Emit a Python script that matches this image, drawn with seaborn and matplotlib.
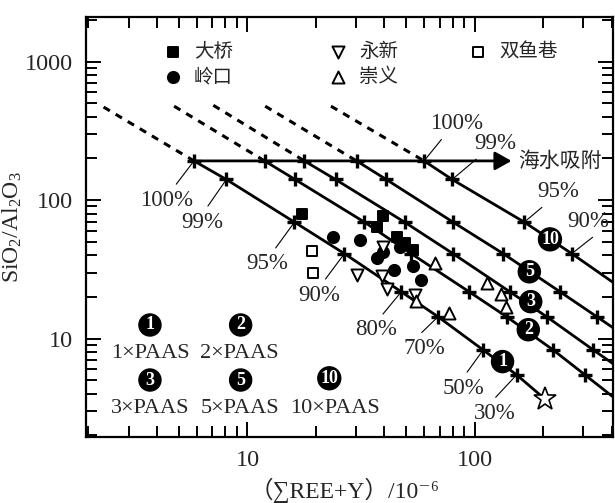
import matplotlib
matplotlib.use('Agg')
import matplotlib.pyplot as plt
import seaborn as sns
import pandas as pd

# silica fraction (%) at the marks on each mixing line, and SiO2/Al2O3 there
frac = [100, 99, 95, 90, 80, 70, 50, 30]
ratio = [192, 141, 69.4, 41.1, 21.8, 14.4, 8.29, 5.48]

# sum REE+Y at the marks of each line (1, 2, 3, 5, 10 x PAAS)
ree_1 = [5.82, 8.08, 16.1, 26.7, 47.5, 68.9, 108.8, 152.7]
ree_2 = [11.9, 16.2, 32.7, 52.5, 94.4, 138, 221, 305]
ree_3 = [17.8, 24.4, 49.1, 80.2, 142.6, 207, 332]
ree_5 = [30.2, 40.8, 80.2, 133.3, 237, 344]
ree_10 = [59.8, 79.5, 165, 267]
# where each line ends (PAAS star for line 1, frame edge for the others)
end_1 = (203.6, 3.66)
end_2 = (405, 3.8)
end_3 = (405, 6.6)
end_5 = (405, 12.0)
end_10 = (405, 25.5)
# upper ends of the dashed extensions
dash_x = [2.33, 4.76, 7.08, 11.97, 23.3]
dash_y = [470, 477, 484, 477, 477]
arrow_end = 145

# samples
daqiao_x = [17.4, 39.4, 37.2, 45.4, 49.1, 53.4]
daqiao_y = [79.3, 76.7, 63.6, 53.8, 48.7, 43.6]
lingkou_x = [23.9, 31.4, 46.7, 39.4, 37.1, 43.9, 53.4, 58.1]
lingkou_y = [53.8, 51.5, 46.1, 42.2, 38.0, 31.5, 33.7, 26.3]
yongxin_x = [39.4, 30.3, 39.2, 41.3, 54.4]
yongxin_y = [46.1, 28.8, 28.3, 22.9, 20.6]
chongyi_x = [54.9, 66.6, 77.0, 113, 129.8, 137.4]
chongyi_y = [18.7, 35.1, 15.2, 25.2, 21.1, 17.0]
shuangyu_x = [19.2, 19.5]
shuangyu_y = [43.1, 29.9]

sns.set_style('ticks')
plt.rcParams['font.family'] = ['Liberation Serif', 'Noto Sans CJK SC', 'DejaVu Serif']
plt.rcParams['mathtext.fontset'] = 'custom'
plt.rcParams['mathtext.rm'] = 'Liberation Serif'
plt.rcParams['mathtext.it'] = 'Liberation Serif:italic'

fig = plt.figure(figsize=(6.15, 5.03), dpi=100)
ax = fig.add_axes([0.1398, 0.1312, 0.8569, 0.835])
ax.set_xscale('log')
ax.set_yscale('log')
ax.set_xlim(1.95, 405)
ax.set_ylim(1.95, 2100)

lines = [(ree_1, end_1), (ree_2, end_2), (ree_3, end_3), (ree_5, end_5), (ree_10, end_10)]
for i, (ree, end) in enumerate(lines):
    n = len(ree)
    ax.plot(ree + [end[0]], ratio[:n] + [end[1]], color='k', lw=2, zorder=2)
    ax.plot(ree, ratio[:n], ls='none', marker='+', ms=10, mew=2.4, color='k', zorder=2)
    ax.plot([dash_x[i], ree[0]], [dash_y[i], ratio[0]], color='k', lw=2.2,
            ls=(0, (2.4, 2.2)), zorder=2)

ax.annotate('', xy=(arrow_end, ratio[0]), xytext=(ree_1[0], ratio[0]),
            arrowprops=dict(arrowstyle='-|>,head_length=0.5,head_width=0.28',
                            lw=2, color='k', mutation_scale=20, shrinkA=0, shrinkB=0),
            zorder=2)
ax.text(arrow_end * 1.07, ratio[0], '海水吸附', fontsize=15, va='center', ha='left',
        family=['Noto Sans CJK SC'])
ax.plot(*end_1, marker='*', ms=17, mfc='white', mec='k', mew=1.2, zorder=3)

kw = dict(edgecolor='k', linewidth=1.4, zorder=3, ax=ax, clip_on=False)
sns.scatterplot(x=daqiao_x, y=daqiao_y, marker='s', s=60, color='k', label='大桥', **kw)
sns.scatterplot(x=lingkou_x, y=lingkou_y, marker='o', s=65, color='k', label='岭口', **kw)
sns.scatterplot(x=yongxin_x, y=yongxin_y, marker='v', s=75, color='white', label='永新', **kw)
sns.scatterplot(x=chongyi_x, y=chongyi_y, marker='^', s=75, color='white', label='崇义', **kw)
sns.scatterplot(x=shuangyu_x, y=shuangyu_y, marker='s', s=55, color='white', label='双鱼巷', **kw)

handles, labels = ax.get_legend_handles_labels()
lkw = dict(frameon=False, loc='upper left', handlelength=1.0, handletextpad=0.6,
           borderpad=0, borderaxespad=0, labelspacing=0.2,
           prop={'family': ['Noto Sans CJK SC'], 'size': 14})
leg1 = ax.legend(handles[:4], labels[:4], ncol=2, columnspacing=4.9,
                 bbox_to_anchor=(0.146, 0.942), **lkw)
ax.add_artist(leg1)
ax.legend(handles[4:], labels[4:], bbox_to_anchor=(0.725, 0.942), **lkw)

# percentage labels: (text, cross x, cross y, text x, text y, relpos)
pct_labels = [
    ('100%', ree_1[0], ratio[0], 4.42, 100, (0.6, 1)),
    ('99%', ree_1[1], ratio[1], 6.31, 69.4, (0.55, 1)),
    ('95%', ree_1[2], ratio[2], 12.25, 34.6, (0.6, 1)),
    ('90%', ree_1[3], ratio[3], 20.7, 20.65, (0.55, 1)),
    ('80%', ree_1[4], ratio[4], 36.9, 11.55, (0.55, 1)),
    ('70%', ree_1[5], ratio[5], 60.2, 8.53, (0.3, 1)),
    ('50%', ree_1[6], ratio[6], 88.8, 4.39, (0.5, 1)),
    ('30%', ree_1[7], ratio[7], 122.5, 2.90, (0.4, 1)),
    ('100%', ree_10[0], ratio[0], 83.0, 357, (0.3, 0)),
    ('99%', ree_10[1], ratio[1], 122.5, 256, (0.2, 0)),
    ('95%', ree_10[2], ratio[2], 233, 114.8, (0.25, 0)),
    ('90%', ree_10[3], ratio[3], 316, 69.8, (0.75, 0)),
]
for t, cx, cy, tx, ty, rp in pct_labels:
    ax.annotate(t, xy=(cx, cy), xytext=(tx, ty), fontsize=16.5, ha='center', va='center',
                arrowprops=dict(arrowstyle='-', lw=0.8, color='k', relpos=rp,
                                shrinkA=2, shrinkB=0), zorder=4)


def badge(x, y, num, trans):
    ax.text(x, y, num, transform=trans, fontsize=13, color='white', ha='center',
            va='center', fontweight='bold', zorder=5,
            bbox=dict(boxstyle='circle,pad=0.14', fc='k', ec='k'))


# numbers on the lines
badge(214, 52.1, '10', ax.transData)
badge(173.6, 30.4, '5', ax.transData)
badge(176.1, 18.5, '3', ax.transData)
badge(171.8, 11.6, '2', ax.transData)
badge(132.4, 6.83, '1', ax.transData)

# key in lower left
key_nums = ['1', '2', '3', '5', '10']
key_x = [0.1214, 0.2935, 0.1214, 0.2935, 0.4617]
key_y = [0.2667, 0.2667, 0.1357, 0.1357, 0.1398]
key_tx = [0.1214, 0.2916, 0.1214, 0.2916, 0.4725]
key_ty = [0.200, 0.200, 0.069, 0.069, 0.069]
for n, x, y, tx, ty in zip(key_nums, key_x, key_y, key_tx, key_ty):
    badge(x, y, n, ax.transAxes)
    ax.text(tx, ty, n + '×PAAS', transform=ax.transAxes, fontsize=16,
            ha='center', va='center')

ax.set_xticks([10, 100])
ax.set_xticklabels(['10', '100'])
ax.set_yticks([10, 100, 1000])
ax.set_yticklabels(['10', '100', '1000'])
ax.tick_params(which='both', direction='in', top=True, right=True, labelsize=17.5,
               width=1.4, color='k')
ax.tick_params(which='major', length=11, pad=9)
ax.tick_params(which='minor', length=8)
for s in ax.spines.values():
    s.set_linewidth(1.6)
    s.set_color('k')

ax.set_xlabel('（∑REE+Y）/10⁻⁶', fontsize=17)
ax.xaxis.set_label_coords(0.49, -0.096)
ax.set_ylabel('SiO$_2$/Al$_2$O$_3$', fontsize=17, labelpad=1)

fig.savefig('out.png', dpi=100)
